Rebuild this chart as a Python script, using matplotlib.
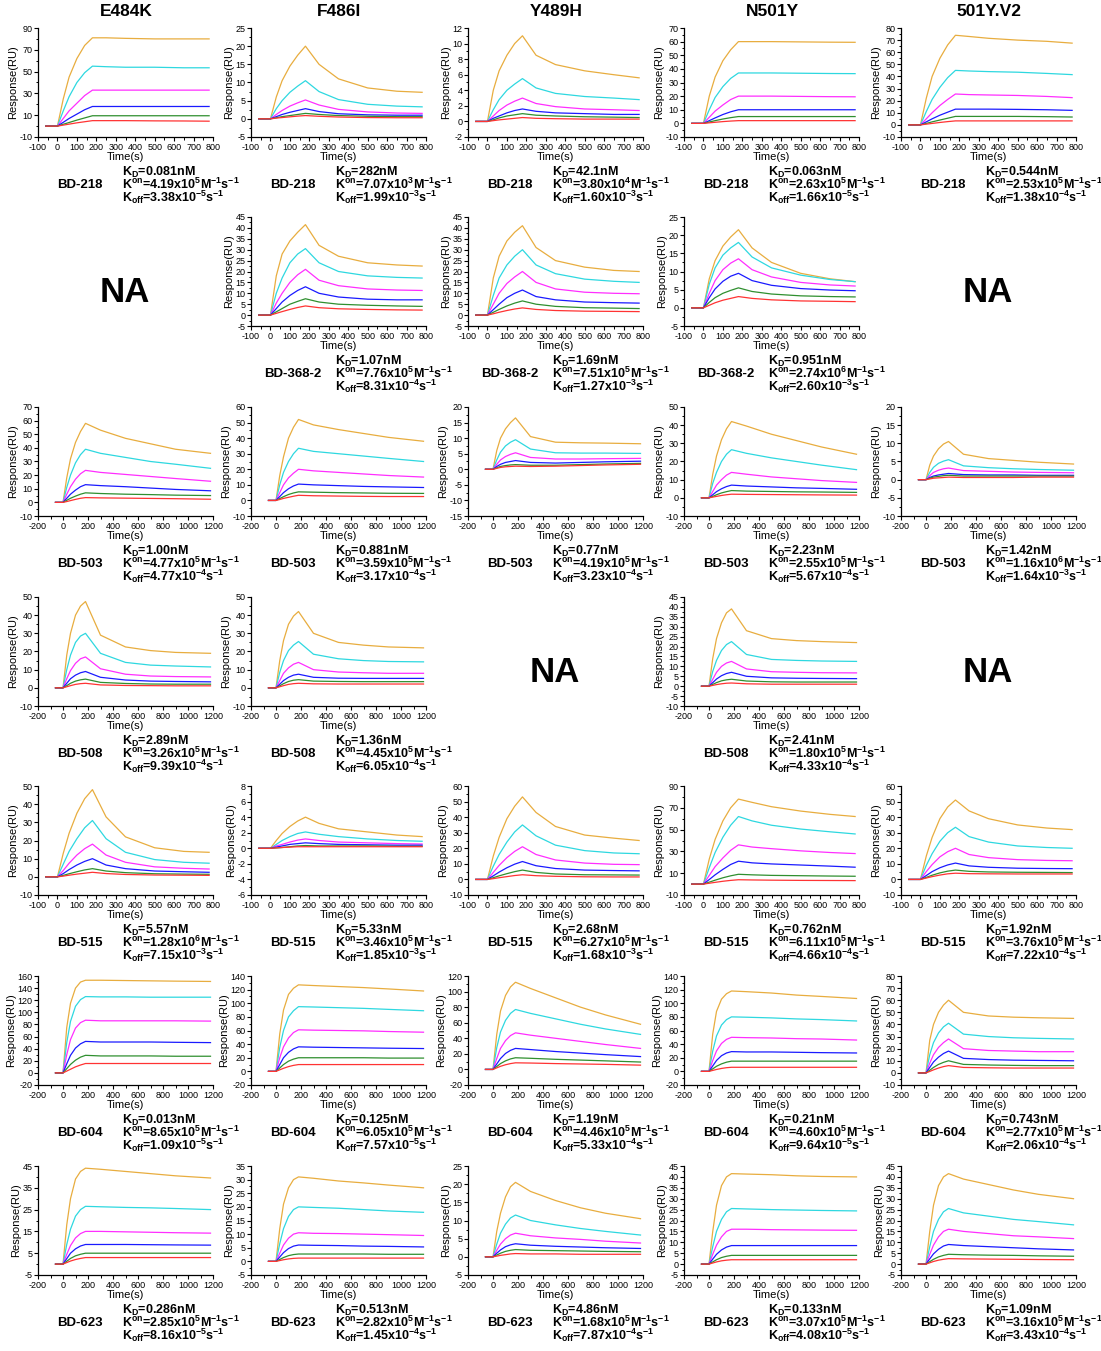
import matplotlib
matplotlib.use('Agg')
import matplotlib.pyplot as plt
from matplotlib.ticker import MultipleLocator

plt.rcParams['font.family'] = ['Liberation Sans', 'DejaVu Sans']
plt.rcParams['axes.unicode_minus'] = False
plt.rcParams['mathtext.fontset'] = 'custom'
plt.rcParams['mathtext.rm'] = 'Liberation Sans:bold'
plt.rcParams['mathtext.it'] = 'Liberation Sans:bold'
plt.rcParams['mathtext.bf'] = 'Liberation Sans:bold'
plt.rcParams['mathtext.default'] = 'bf'

MUTANTS = ['E484K', 'F486I', 'Y489H', 'N501Y', '501Y.V2']
ANTIBODIES = ['BD-218', 'BD-368-2', 'BD-503', 'BD-508', 'BD-515', 'BD-604', 'BD-623']
# time points (s)
T_SHORT = [-60, 0, 30, 60, 100, 140, 180, 250, 350, 500, 650, 780]
T_LONG = [-60, 0, 30, 60, 100, 140, 180, 300, 500, 700, 900, 1180]
COLORS = ['#E8AD3F', '#2ED8E0', '#FF2EFF', '#1A1AFF', '#2F8F2F', '#FF3333']

# ---- BD-218 (short time axis) ----
BD218_E484K = [[0, 0, 25, 45, 62, 74, 81, 81, 80.5, 80, 80, 80],
               [0, 0, 14, 27, 40, 49, 55, 54.5, 54, 54, 53.5, 53.5],
               [0, 0, 7, 14, 21, 28, 33, 33, 33, 33, 33, 33],
               [0, 0, 3.5, 7, 11, 15, 18, 18, 18, 18, 18, 18],
               [0, 0, 1.7, 3.3, 5.5, 7.5, 9.5, 9.5, 9.5, 9.5, 9.5, 9.5],
               [0, 0, 0.9, 1.8, 3, 4, 5, 5, 5, 4.8, 4.7, 4.5]]
BD218_F486I = [[0, 0, 6, 10.5, 14.5, 17.5, 20, 15, 11, 8.5, 7.6, 7.3],
               [0, 0, 2.8, 5, 7.3, 9, 10.5, 7.5, 5.3, 4, 3.5, 3.3],
               [0, 0, 1.2, 2.3, 3.5, 4.4, 5.2, 3.8, 2.6, 1.9, 1.6, 1.5],
               [0, 0, 0.6, 1.2, 1.8, 2.3, 2.8, 2, 1.4, 1.1, 1, 1],
               [0, 0, 0.3, 0.6, 0.9, 1.2, 1.5, 1.2, 0.9, 0.7, 0.6, 0.6],
               [0, 0, 0.2, 0.35, 0.55, 0.75, 0.9, 0.7, 0.5, 0.35, 0.3, 0.3]]
BD218_Y489H = [[0, 0, 4, 6.5, 8.5, 10, 11, 8.5, 7.3, 6.5, 6, 5.6],
               [0, 0, 1.5, 2.8, 4, 4.8, 5.5, 4.3, 3.6, 3.2, 3, 2.8],
               [0, 0, 0.7, 1.4, 2.1, 2.6, 3, 2.3, 1.9, 1.6, 1.5, 1.4],
               [0, 0, 0.4, 0.7, 1.1, 1.4, 1.6, 1.3, 1.1, 1, 0.9, 0.9],
               [0, 0, 0.2, 0.45, 0.7, 0.85, 1.0, 0.8, 0.7, 0.6, 0.55, 0.5],
               [0, 0, 0.1, 0.2, 0.3, 0.4, 0.5, 0.4, 0.35, 0.3, 0.3, 0.3]]
BD218_N501Y = [[0, 0, 20, 34, 46, 54, 60, 60, 60, 59.8, 59.6, 59.5],
               [0, 0, 10, 19, 27, 33, 37, 37, 37, 36.8, 36.6, 36.5],
               [0, 0, 4.5, 9, 13.5, 17.5, 20, 20, 20, 19.8, 19.6, 19.5],
               [0, 0, 2, 4, 6.5, 8.5, 10, 10, 10, 10, 10, 10],
               [0, 0, 1, 2, 3.2, 4.2, 5, 5, 5, 5, 5, 5],
               [0, 0, 0.4, 0.8, 1.3, 1.7, 2, 2, 2, 2, 2, 2]]
BD218_501YV2 = [[0, 0, 22, 40, 55, 66, 74, 73, 71.5, 70, 69, 67.5],
                [0, 0, 11, 21, 31, 39, 45, 44.5, 44, 43.5, 42.5, 41.5],
                [0, 0, 5, 10, 16, 21, 25.5, 25, 24.7, 24.3, 23.5, 22.5],
                [0, 0, 2.5, 5, 8, 10.5, 13, 13, 13, 12.8, 12.5, 12],
                [0, 0, 1.2, 2.5, 4, 5.5, 7, 7, 7, 7, 6.8, 6.5],
                [0, 0, 0.6, 1.2, 2, 2.7, 3.3, 3.3, 3.3, 3.3, 3.3, 3.3]]

# ---- BD-368-2 (short time axis) ----
BD368_F486I = [[0, 0, 18, 28, 34, 38, 41.5, 32, 27, 24, 23, 22.5],
               [0, 0, 10, 17, 24, 28, 30.5, 24, 20, 18, 17.3, 17],
               [0, 0, 5.5, 10, 15, 18.5, 21, 16, 13.5, 12, 11.5, 11.3],
               [0, 0, 3, 6, 9, 11.3, 13, 10, 8.3, 7.3, 7, 7],
               [0, 0, 1.5, 3, 5, 6.3, 7.5, 6, 5, 4.5, 4.2, 4.0],
               [0, 0, 0.8, 1.6, 2.6, 3.5, 4.2, 3.4, 2.9, 2.6, 2.4, 2.3]]
BD368_Y489H = [[0, 0, 17, 27, 34, 38, 41, 31, 25, 22, 20.5, 20],
               [0, 0, 9, 17, 23, 27, 30, 23, 19, 16.5, 15.5, 15],
               [0, 0, 5, 10, 14.5, 17.5, 20, 15, 12, 10.5, 10, 9.8],
               [0, 0, 2.5, 5, 8, 10, 11.5, 8.5, 7, 6, 5.7, 5.5],
               [0, 0, 1.3, 2.6, 4.2, 5.5, 6.5, 5, 4, 3.4, 3.2, 3.0],
               [0, 0, 0.6, 1.3, 2.1, 2.8, 3.3, 2.6, 2.1, 1.8, 1.7, 1.6]]
BD368_N501Y = [[0, 0, 8, 13, 17, 19.5, 21.5, 16.5, 12.5, 9.5, 8, 7.2],
               [0, 0, 6.5, 11, 14.5, 16.5, 18, 14, 11, 9, 7.8, 7.2],
               [0, 0, 4, 7.5, 10.5, 12.3, 13.5, 10.5, 8.5, 7, 6.3, 6],
               [0, 0, 2.8, 5.2, 7.3, 8.7, 9.5, 7.5, 6.2, 5.3, 4.9, 4.7],
               [0, 0, 1.5, 2.8, 4, 4.8, 5.5, 4.5, 3.8, 3.3, 3.1, 3.0],
               [0, 0, 0.7, 1.4, 2.1, 2.6, 3.1, 2.6, 2.2, 1.9, 1.8, 1.7]]

# ---- BD-503 (long time axis) ----
BD503_E484K = [[0, 0, 18, 32, 44, 52, 58, 53, 47, 43, 39, 36],
               [0, 0, 11, 20, 29, 35, 39, 36, 33, 30, 28, 25],
               [0, 0, 6, 11.5, 17, 21, 23.5, 22, 20.5, 19, 17.5, 15.5],
               [0, 0, 3, 6, 9, 11.5, 13, 12.3, 11.5, 10.5, 9.5, 8.5],
               [0, 0, 1.5, 3, 4.6, 6, 7, 6.5, 6, 5.7, 5.3, 5],
               [0, 0, 0.6, 1.3, 2.2, 3, 3.5, 3.3, 3.1, 2.9, 2.7, 2.3]]
BD503_F486I = [[0, 0, 16, 28, 40, 47, 52, 48.5, 45.5, 43, 40.5, 38],
               [0, 0, 10, 18, 25, 30, 33.5, 31.5, 30, 28.5, 27, 25],
               [0, 0, 5, 10, 14.5, 17.5, 20, 19, 18, 17, 16, 15],
               [0, 0, 2.5, 5, 7.5, 9.3, 10.5, 10, 9.5, 9, 8.7, 8.3],
               [0, 0, 1.2, 2.4, 3.8, 4.8, 5.5, 5.3, 5, 4.8, 4.6, 4.5],
               [0, 0, 0.6, 1.3, 2, 2.7, 3.3, 3, 2.8, 2.6, 2.5, 2.5]]
BD503_Y489H = [[0, 0, 6, 10, 13, 15, 16.5, 10.5, 8.7, 8.5, 8.4, 8.2],
               [0, 0, 3, 5.5, 7.5, 8.7, 9.5, 6.5, 5.3, 5.2, 5.2, 5.1],
               [0, 0, 1.6, 3, 4.1, 4.8, 5.3, 3.8, 3.3, 3.3, 3.4, 3.5],
               [0, 0, 0.9, 1.6, 2.2, 2.5, 2.8, 2.2, 2, 2.2, 2.4, 2.6],
               [0, 0, 0.5, 0.9, 1.2, 1.4, 1.5, 1.3, 1.3, 1.5, 1.7, 1.9],
               [0, 0, 0.3, 0.6, 0.8, 0.9, 1.0, 0.9, 1, 1.2, 1.4, 1.6]]
BD503_N501Y = [[0, 0, 13, 23, 32, 38, 42, 39.5, 35, 31.5, 28, 24],
               [0, 0, 8, 14, 20, 24, 26.5, 24.5, 22, 20, 18, 15.5],
               [0, 0, 3.5, 7, 10, 12.5, 14, 13, 11.5, 10.5, 9.5, 8.5],
               [0, 0, 1.7, 3.4, 5, 6.2, 7, 6.5, 6, 5.5, 5.2, 4.7],
               [0, 0, 0.8, 1.7, 2.7, 3.4, 4, 3.7, 3.5, 3.3, 3.2, 3],
               [0, 0, 0.4, 0.8, 1.3, 1.7, 2, 1.9, 1.8, 1.7, 1.6, 1.5]]
BD503_501YV2 = [[0, 0, 4, 6.5, 8.5, 9.8, 10.5, 7, 5.8, 5.3, 4.8, 4.3],
                [0, 0, 2, 3.4, 4.5, 5.1, 5.5, 3.8, 3.3, 3, 2.8, 2.6],
                [0, 0, 1.1, 2, 2.6, 3, 3.2, 2.5, 2.3, 2.1, 2, 1.9],
                [0, 0, 0.6, 1, 1.3, 1.5, 1.7, 1.4, 1.3, 1.3, 1.2, 1.2],
                [0, 0, 0.4, 0.7, 0.9, 1.1, 1.2, 1, 1, 1, 1, 1],
                [0, 0, 0.2, 0.4, 0.5, 0.6, 0.7, 0.6, 0.6, 0.6, 0.7, 0.7]]

# ---- BD-508 (long time axis) ----
BD508_E484K = [[0, 0, 18, 30, 40, 45, 47.5, 29, 22.5, 20.5, 19.5, 19],
               [0, 0, 10, 18, 25, 28.5, 30, 19, 14, 12.5, 12, 11.5],
               [0, 0, 5, 9.5, 13.5, 16, 17, 10.5, 7.5, 6.5, 6.2, 6],
               [0, 0, 2.5, 5, 7, 8.3, 9, 5.8, 4.3, 3.7, 3.5, 3.3],
               [0, 0, 1.2, 2.5, 3.7, 4.4, 4.8, 3, 2.4, 2.1, 2, 2],
               [0, 0, 0.6, 1.2, 1.9, 2.3, 2.5, 1.6, 1.3, 1.2, 1.1, 1.1]]
BD508_F486I = [[0, 0, 15, 26, 35, 39.5, 42, 30, 25, 23.5, 22.5, 22],
               [0, 0, 8.5, 15, 20.5, 23.5, 25.5, 18.5, 16, 15, 14.5, 14.3],
               [0, 0, 4, 8, 11, 13, 14, 10, 8.7, 8.3, 8, 8],
               [0, 0, 2, 4, 5.8, 7, 7.5, 5.8, 5.3, 5.2, 5.2, 5.2],
               [0, 0, 1.1, 2.3, 3.5, 4.2, 4.5, 3.7, 3.5, 3.4, 3.4, 3.4],
               [0, 0, 0.6, 1.2, 1.9, 2.3, 2.5, 2.2, 2.1, 2.1, 2.1, 2.1]]
BD508_N501Y = [[0, 0, 14, 24, 32, 37, 39, 28, 24, 23, 22.5, 22],
               [0, 0, 7.5, 13, 18, 21, 22.5, 16, 13.5, 13, 12.7, 12.5],
               [0, 0, 3.5, 7, 10, 11.7, 12.5, 8.7, 7.3, 7, 6.8, 6.7],
               [0, 0, 1.8, 3.6, 5.3, 6.4, 7, 5, 4.2, 4, 3.9, 3.8],
               [0, 0, 0.9, 1.8, 2.7, 3.2, 3.5, 2.6, 2.2, 2.1, 2.1, 2.1],
               [0, 0, 0.4, 0.8, 1.2, 1.5, 1.6, 1.2, 1, 1, 1, 1]]

# ---- BD-515 (short time axis) ----
BD515_E484K = [[0, 0, 13, 24, 35, 43, 48, 33, 22, 16, 14, 13.5],
               [0, 0, 7, 14, 21, 27, 31, 21, 13.5, 9.5, 8, 7.5],
               [0, 0, 3.5, 7.5, 12, 15.5, 18, 12, 8, 5.5, 4.7, 4.3],
               [0, 0, 1.8, 4, 6.5, 8.5, 10, 6.5, 4.5, 3.2, 2.8, 2.5],
               [0, 0, 0.8, 1.7, 2.8, 3.8, 4.5, 3.2, 2.3, 1.7, 1.5, 1.4],
               [0, 0, 0.4, 0.9, 1.5, 2, 2.5, 1.8, 1.3, 1, 0.9, 0.8]]
BD515_F486I = [[0, 0, 1, 1.9, 2.8, 3.5, 4, 3.2, 2.5, 2.1, 1.7, 1.5],
               [0, 0, 0.5, 1, 1.5, 1.9, 2.1, 1.8, 1.5, 1.2, 1, 0.9],
               [0, 0, 0.3, 0.5, 0.8, 1.05, 1.2, 1, 0.8, 0.7, 0.6, 0.55],
               [0, 0, 0.15, 0.3, 0.5, 0.6, 0.7, 0.6, 0.5, 0.45, 0.4, 0.4],
               [0, 0, 0.05, 0.1, 0.2, 0.3, 0.35, 0.3, 0.3, 0.3, 0.25, 0.25],
               [0, 0, 0.05, 0.1, 0.15, 0.2, 0.2, 0.2, 0.2, 0.2, 0.2, 0.2]]
BD515_Y489H = [[0, 0, 15, 27, 39, 47, 53, 43, 34, 28.5, 26.5, 25],
               [0, 0, 8.5, 16, 24, 30.5, 35, 28, 22, 18.5, 17, 16.5],
               [0, 0, 4.5, 9, 14, 18, 21, 16, 12.5, 10.5, 9.7, 9.5],
               [0, 0, 2.3, 4.7, 7.5, 9.8, 11.5, 8.8, 7, 6, 5.7, 5.5],
               [0, 0, 1.1, 2.3, 3.7, 5, 6, 4.5, 3.5, 3, 2.9, 2.8],
               [0, 0, 0.5, 1.1, 1.8, 2.5, 3, 2.4, 2, 1.7, 1.6, 1.6]]
BD515_N501Y = [[0, 0, 23, 41, 58, 70, 78, 75, 71, 67, 64, 62],
               [0, 0, 15, 29, 43, 54, 62, 58, 54, 50.5, 48, 46],
               [0, 0, 8, 16, 24, 31, 36, 34, 32.5, 30.5, 29, 28],
               [0, 0, 4.2, 8.5, 13.5, 18, 21, 19.5, 18.5, 17.5, 16.5, 15.5],
               [0, 0, 1.8, 3.6, 5.8, 7.6, 9, 8.5, 8, 7.7, 7.4, 7.2],
               [0, 0, 0.8, 1.6, 2.6, 3.4, 4, 3.8, 3.6, 3.4, 3.3, 3.2]]
BD515_501YV2 = [[0, 0, 15, 27, 39, 46.5, 51, 44, 39, 35, 33, 32],
                [0, 0, 9, 16.5, 24.5, 30, 33.5, 27.5, 24, 21.5, 20.5, 20],
                [0, 0, 5, 9.5, 14.5, 17.8, 20, 16, 14, 12.7, 12.2, 12],
                [0, 0, 2.5, 5, 7.5, 9.3, 10.5, 8.7, 7.8, 7.2, 7, 6.9],
                [0, 0, 1.3, 2.7, 4.2, 5.3, 6, 5.2, 4.8, 4.6, 4.5, 4.4],
                [0, 0, 0.9, 1.8, 2.8, 3.6, 4, 3.7, 3.6, 3.5, 3.5, 3.5]]

# ---- BD-604 (long time axis) ----
BD604_E484K = [[0, 0, 75, 115, 140, 150, 153, 153, 152.5, 152, 151.5, 151],
               [0, 0, 50, 85, 110, 121, 126, 125.5, 125.5, 125, 125, 125],
               [0, 0, 30, 55, 74, 83, 87, 86, 86, 86, 86, 85.5],
               [0, 0, 15, 29, 41, 48, 52, 51, 51, 51, 50.5, 50],
               [0, 0, 7, 14, 21, 26, 29, 28, 28, 28, 27.5, 27.5],
               [0, 0, 3, 6, 10, 13, 15.5, 15.5, 15.5, 15.5, 15.5, 15.5]]
BD604_F486I = [[0, 0, 55, 90, 113, 122, 127, 126, 124.5, 123, 121, 118],
               [0, 0, 35, 60, 80, 89, 95, 94.5, 93.5, 92.5, 91, 89],
               [0, 0, 20, 36, 49, 57, 61, 60.5, 60, 59.5, 58.5, 57.5],
               [0, 0, 10, 20, 28, 33, 36, 35.5, 35, 34.5, 34, 33.5],
               [0, 0, 5, 10, 15, 18, 20, 20, 20, 20, 19.5, 19.5],
               [0, 0, 2.3, 4.5, 7, 8.8, 10, 10, 10, 10, 10, 10]]
BD604_Y489H = [[0, 0, 45, 75, 95, 106, 112, 104, 92, 80, 70, 58],
               [0, 0, 28, 48, 63, 72, 77, 72, 65, 58, 52, 45],
               [0, 0, 14, 27, 37, 43.5, 47, 44, 40, 36, 32, 27],
               [0, 0, 7, 14, 20.5, 24.5, 27, 25.5, 23, 21, 19, 16.5],
               [0, 0, 3.7, 7.5, 11, 13.5, 15, 14.3, 13, 12, 11, 9.5],
               [0, 0, 2, 4, 6, 7.5, 8.5, 8.2, 7.5, 7, 6.5, 5.5]]
BD604_N501Y = [[0, 0, 55, 88, 106, 114, 118, 117, 115, 112, 110, 107],
               [0, 0, 30, 52, 68, 76, 80, 79.5, 78.5, 77, 76, 74],
               [0, 0, 16, 30, 41, 47, 50, 49.5, 49, 48, 47.5, 46],
               [0, 0, 8, 16, 23, 27, 29, 28.5, 28.5, 28, 27.5, 27],
               [0, 0, 3.7, 7.5, 11, 13.5, 15, 15, 15, 15, 15, 15],
               [0, 0, 1.4, 2.8, 4.3, 5.4, 6, 6, 6, 6, 6, 6]]
BD604_501YV2 = [[0, 0, 27, 40, 50, 56, 60, 50, 47, 46, 45.5, 45],
                [0, 0, 15, 25, 33, 38, 41, 32, 30, 29, 28.5, 28],
                [0, 0, 8, 15, 21, 25, 28, 20, 18.5, 18, 17.5, 17.5],
                [0, 0, 4.5, 9, 13, 16, 18, 12, 11, 10.5, 10.3, 10],
                [0, 0, 2.2, 4.5, 7, 8.7, 10, 7, 6.5, 6.2, 6, 6],
                [0, 0, 1.2, 2.5, 4, 5.2, 6, 4.5, 4.2, 4, 4, 4]]

# ---- BD-623 (long time axis) ----
BD623_E484K = [[0, 0, 18, 30, 39, 42.5, 44, 43.5, 42.5, 41.5, 40.5, 39.5],
               [0, 0, 9, 16, 22, 25, 26.5, 26.3, 26, 25.8, 25.5, 25],
               [0, 0, 4.5, 8.5, 12, 14, 15, 15, 14.8, 14.6, 14.4, 14.2],
               [0, 0, 2.5, 5, 7, 8.3, 9, 9, 9, 8.9, 8.8, 8.7],
               [0, 0, 1.3, 2.6, 3.8, 4.5, 5, 5, 5, 5, 5, 5],
               [0, 0, 0.7, 1.4, 2.1, 2.6, 3, 3, 3, 3, 3, 3]]
BD623_F486I = [[0, 0, 12, 21, 27, 30, 31, 30.5, 29.5, 28.8, 28, 27],
               [0, 0, 6.5, 12, 16.5, 19, 20, 19.8, 19.5, 19, 18.5, 18],
               [0, 0, 3, 6, 8.5, 10, 10.5, 10.3, 10.2, 10, 9.8, 9.5],
               [0, 0, 1.6, 3.2, 4.7, 5.6, 6, 5.9, 5.8, 5.6, 5.5, 5.3],
               [0, 0, 0.7, 1.4, 2.1, 2.5, 2.7, 2.7, 2.7, 2.7, 2.6, 2.6],
               [0, 0, 0.3, 0.6, 0.9, 1.1, 1.2, 1.2, 1.2, 1.2, 1.2, 1.2]]
BD623_Y489H = [[0, 0, 7, 12, 16.5, 19.3, 20.5, 18, 15.5, 13.5, 12, 10.5],
               [0, 0, 3.5, 6.5, 9, 10.7, 11.5, 10, 8.8, 7.8, 7, 6],
               [0, 0, 1.8, 3.5, 5, 6, 6.5, 5.8, 5.2, 4.8, 4.3, 3.8],
               [0, 0, 1, 1.9, 2.8, 3.3, 3.6, 3.2, 2.9, 2.7, 2.5, 2.3],
               [0, 0, 0.5, 1, 1.5, 1.8, 2, 1.8, 1.7, 1.6, 1.5, 1.4],
               [0, 0, 0.2, 0.4, 0.6, 0.8, 0.9, 0.8, 0.8, 0.7, 0.7, 0.7]]
BD623_N501Y = [[0, 0, 15, 27, 36, 40, 41.5, 41.3, 41, 40.5, 40.2, 40],
               [0, 0, 8, 15, 20.5, 24, 25.5, 25.3, 25, 24.8, 24.6, 24.4],
               [0, 0, 4.5, 8.7, 12.5, 15, 16, 16, 15.8, 15.7, 15.6, 15.5],
               [0, 0, 2.3, 4.5, 6.5, 7.8, 8.5, 8.5, 8.5, 8.5, 8.5, 8.5],
               [0, 0, 1, 2, 3, 3.6, 4, 4, 4, 4, 4, 4],
               [0, 0, 0.5, 1, 1.5, 1.8, 2, 2, 2, 2, 2, 2]]
BD623_501YV2 = [[0, 0, 15, 27, 36, 40, 41.5, 39, 36.5, 34, 32, 30],
                [0, 0, 8, 15, 20.5, 24, 25.5, 23.5, 22, 20.5, 19.5, 18],
                [0, 0, 4.5, 8.7, 12.5, 15, 16, 15, 14, 13, 12.5, 11.7],
                [0, 0, 2.4, 4.7, 6.8, 8.3, 9, 8.5, 8, 7.5, 7, 6.5],
                [0, 0, 1.1, 2.2, 3.3, 4, 4.5, 4.3, 4.1, 4, 3.8, 3.6],
                [0, 0, 0.6, 1.2, 1.8, 2.2, 2.5, 2.4, 2.3, 2.2, 2.1, 2]]

# kinetics: (KD, kon mantissa, kon exponent, koff mantissa, koff exponent)
KIN_218 = [('0.081', '4.19', 5, '3.38', -5), ('282', '7.07', 3, '1.99', -3),
           ('42.1', '3.80', 4, '1.60', -3), ('0.063', '2.63', 5, '1.66', -5),
           ('0.544', '2.53', 5, '1.38', -4)]
KIN_368 = [None, ('1.07', '7.76', 5, '8.31', -4), ('1.69', '7.51', 5, '1.27', -3),
           ('0.951', '2.74', 6, '2.60', -3), None]
KIN_503 = [('1.00', '4.77', 5, '4.77', -4), ('0.881', '3.59', 5, '3.17', -4),
           ('0.77', '4.19', 5, '3.23', -4), ('2.23', '2.55', 5, '5.67', -4),
           ('1.42', '1.16', 6, '1.64', -3)]
KIN_508 = [('2.89', '3.26', 5, '9.39', -4), ('1.36', '4.45', 5, '6.05', -4), None,
           ('2.41', '1.80', 5, '4.33', -4), None]
KIN_515 = [('5.57', '1.28', 6, '7.15', -3), ('5.33', '3.46', 5, '1.85', -3),
           ('2.68', '6.27', 5, '1.68', -3), ('0.762', '6.11', 5, '4.66', -4),
           ('1.92', '3.76', 5, '7.22', -4)]
KIN_604 = [('0.013', '8.65', 5, '1.09', -5), ('0.125', '6.05', 5, '7.57', -5),
           ('1.19', '4.46', 5, '5.33', -4), ('0.21', '4.60', 5, '9.64', -5),
           ('0.743', '2.77', 5, '2.06', -4)]
KIN_623 = [('0.286', '2.85', 5, '8.16', -5), ('0.513', '2.82', 5, '1.45', -4),
           ('4.86', '1.68', 5, '7.87', -4), ('0.133', '3.07', 5, '4.08', -5),
           ('1.09', '3.16', 5, '3.43', -4)]

# y axis per panel: (min, max, label step)
YAX_218 = [(-10, 90, 20), (-5, 25, 5), (-2, 12, 2), (-10, 70, 10), (-10, 80, 10)]
YAX_368 = [None, (-5, 45, 5), (-5, 45, 5), (-5, 25, 5), None]
YAX_503 = [(-10, 70, 10), (-10, 60, 10), (-15, 20, 5), (-10, 50, 10), (-10, 20, 5)]
YAX_508 = [(-10, 50, 10), (-10, 50, 10), None, (-10, 45, 5), None]
YAX_515 = [(-10, 50, 10), (-6, 8, 2), (-10, 60, 10), (-10, 90, 20), (-10, 60, 10)]
YAX_604 = [(-20, 160, 20), (-20, 140, 20), (-20, 120, 20), (-20, 140, 20), (-10, 80, 10)]
YAX_623 = [(-5, 45, 10), (-5, 35, 5), (-5, 25, 5), (-5, 45, 5), (-5, 45, 5)]

CURVES = [[BD218_E484K, BD218_F486I, BD218_Y489H, BD218_N501Y, BD218_501YV2],
          [None, BD368_F486I, BD368_Y489H, BD368_N501Y, None],
          [BD503_E484K, BD503_F486I, BD503_Y489H, BD503_N501Y, BD503_501YV2],
          [BD508_E484K, BD508_F486I, None, BD508_N501Y, None],
          [BD515_E484K, BD515_F486I, BD515_Y489H, BD515_N501Y, BD515_501YV2],
          [BD604_E484K, BD604_F486I, BD604_Y489H, BD604_N501Y, BD604_501YV2],
          [BD623_E484K, BD623_F486I, BD623_Y489H, BD623_N501Y, BD623_501YV2]]
KINETICS = [KIN_218, KIN_368, KIN_503, KIN_508, KIN_515, KIN_604, KIN_623]
YAXES = [YAX_218, YAX_368, YAX_503, YAX_508, YAX_515, YAX_604, YAX_623]
LONG_ROWS = [False, False, True, True, False, True, True]

W, H = 1101, 1351
fig = plt.figure(figsize=(W / 100, H / 100), dpi=100)
COL_X = [38, 251, 468, 684, 901]
ROW_Y = [28, 217, 407, 597, 786, 976, 1166]
AX_W, AX_H = 175, 109


def px(x, y):
    return x / W, 1 - y / H


for c, name in enumerate(MUTANTS):
    fig.text(*px(COL_X[c] + 88, 12), name, ha='center', va='center',
             fontsize=12.5, fontweight='bold')

for r, ab in enumerate(ANTIBODIES):
    top = ROW_Y[r]
    times = T_LONG if LONG_ROWS[r] else T_SHORT
    for c in range(5):
        left = COL_X[c]
        if CURVES[r][c] is None:
            fig.text(*px(left + 87, top + 75), 'NA', ha='center', va='center',
                     fontsize=25, fontweight='bold')
            continue
        ax = fig.add_axes([left / W, 1 - (top + AX_H) / H, AX_W / W, AX_H / H])
        for vals, col in zip(CURVES[r][c], COLORS):
            ax.plot(times, vals, color=col, lw=0.9)
        if LONG_ROWS[r]:
            ax.set_xlim(-200, 1200)
            ax.xaxis.set_major_locator(MultipleLocator(200))
            ax.xaxis.set_minor_locator(MultipleLocator(100))
        else:
            ax.set_xlim(-100, 800)
            ax.xaxis.set_major_locator(MultipleLocator(100))
            ax.xaxis.set_minor_locator(MultipleLocator(50))
        ylo, yhi, step = YAXES[r][c]
        ax.set_ylim(ylo, yhi)
        ax.set_yticks(list(range(ylo, yhi + 1, step)))
        ax.yaxis.set_minor_locator(MultipleLocator(step / 2))
        for s in ['top', 'right']:
            ax.spines[s].set_visible(False)
        for s in ['left', 'bottom']:
            ax.spines[s].set_linewidth(0.9)
        ax.tick_params(which='major', direction='out', length=3, width=0.8,
                       labelsize=6.5, pad=1)
        ax.tick_params(which='minor', direction='out', length=1.8, width=0.7)
        ax.set_xlabel('Time(s)', fontsize=8, labelpad=0)
        ax.set_ylabel('Response(RU)', fontsize=8, labelpad=1)

        kd, kon_m, kon_e, koff_m, koff_e = KINETICS[r][c]
        fig.text(*px(left + 42, top + 157), ab, ha='center', va='center',
                 fontsize=9.5, fontweight='bold')
        fig.text(*px(left + 84, top + 144), 'K$_{D}$=' + kd + 'nM',
                 ha='left', va='center', fontsize=9, fontweight='bold')
        fig.text(*px(left + 84, top + 156.5),
                 'K$^{on}$=' + kon_m + 'x10$^{' + str(kon_e) + '}$M$^{-1}$s$^{-1}$',
                 ha='left', va='center', fontsize=9, fontweight='bold')
        fig.text(*px(left + 84, top + 169),
                 'K$_{off}$=' + koff_m + 'x10$^{' + str(koff_e) + '}$s$^{-1}$',
                 ha='left', va='center', fontsize=9, fontweight='bold')

fig.savefig('out.png', dpi=100)
